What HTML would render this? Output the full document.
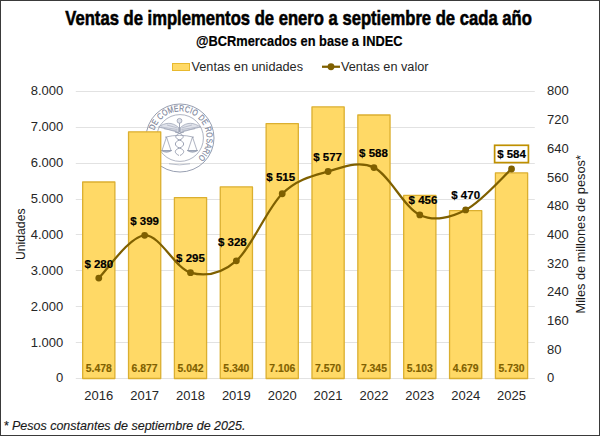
<!DOCTYPE html><html><head><meta charset="utf-8"><style>html,body{margin:0;padding:0;background:#fff;}svg{display:block}</style></head><body>
<svg width="600" height="436" viewBox="0 0 600 436">
<rect x="0" y="0" width="600" height="436" fill="#fff"/>
<line x1="75.8" y1="378.5" x2="534.8" y2="378.5" stroke="#e2e2e2" stroke-width="1.1"/>
<line x1="75.8" y1="342.5" x2="534.8" y2="342.5" stroke="#e2e2e2" stroke-width="1.1"/>
<line x1="75.8" y1="306.5" x2="534.8" y2="306.5" stroke="#e2e2e2" stroke-width="1.1"/>
<line x1="75.8" y1="270.5" x2="534.8" y2="270.5" stroke="#e2e2e2" stroke-width="1.1"/>
<line x1="75.8" y1="234.5" x2="534.8" y2="234.5" stroke="#e2e2e2" stroke-width="1.1"/>
<line x1="75.8" y1="199.5" x2="534.8" y2="199.5" stroke="#e2e2e2" stroke-width="1.1"/>
<line x1="75.8" y1="163.5" x2="534.8" y2="163.5" stroke="#e2e2e2" stroke-width="1.1"/>
<line x1="75.8" y1="127.5" x2="534.8" y2="127.5" stroke="#e2e2e2" stroke-width="1.1"/>
<line x1="75.8" y1="91.5" x2="534.8" y2="91.5" stroke="#e2e2e2" stroke-width="1.1"/>
<g id="seal" fill="none" stroke="#8c94a8" stroke-width="0.9">
<circle cx="180.0" cy="138.0" r="34"/><circle cx="180.0" cy="138.0" r="23.4" stroke-width="0.7"/>
<text transform="translate(158.44 153.58) rotate(-125.9) scale(0.78 1)" font-family="Liberation Sans" font-size="8.8" fill="#7c8499" stroke="#7c8499" stroke-width="0.15" text-anchor="middle">B</text>
<text transform="translate(155.84 149.13) rotate(-114.7) scale(0.78 1)" font-family="Liberation Sans" font-size="8.8" fill="#7c8499" stroke="#7c8499" stroke-width="0.15" text-anchor="middle">O</text>
<text transform="translate(154.19 144.45) rotate(-104.0) scale(0.78 1)" font-family="Liberation Sans" font-size="8.8" fill="#7c8499" stroke="#7c8499" stroke-width="0.15" text-anchor="middle">L</text>
<text transform="translate(153.47 139.93) rotate(-94.2) scale(0.78 1)" font-family="Liberation Sans" font-size="8.8" fill="#7c8499" stroke="#7c8499" stroke-width="0.15" text-anchor="middle">S</text>
<text transform="translate(153.55 135.16) rotate(-83.9) scale(0.78 1)" font-family="Liberation Sans" font-size="8.8" fill="#7c8499" stroke="#7c8499" stroke-width="0.15" text-anchor="middle">A</text>
<text transform="translate(155.23 128.31) rotate(-68.6) scale(0.78 1)" font-family="Liberation Sans" font-size="8.8" fill="#7c8499" stroke="#7c8499" stroke-width="0.15" text-anchor="middle">D</text>
<text transform="translate(157.46 123.88) rotate(-57.9) scale(0.78 1)" font-family="Liberation Sans" font-size="8.8" fill="#7c8499" stroke="#7c8499" stroke-width="0.15" text-anchor="middle">E</text>
<text transform="translate(161.96 118.45) rotate(-42.7) scale(0.78 1)" font-family="Liberation Sans" font-size="8.8" fill="#7c8499" stroke="#7c8499" stroke-width="0.15" text-anchor="middle">C</text>
<text transform="translate(166.23 115.24) rotate(-31.2) scale(0.78 1)" font-family="Liberation Sans" font-size="8.8" fill="#7c8499" stroke="#7c8499" stroke-width="0.15" text-anchor="middle">O</text>
<text transform="translate(171.41 112.82) rotate(-18.8) scale(0.78 1)" font-family="Liberation Sans" font-size="8.8" fill="#7c8499" stroke="#7c8499" stroke-width="0.15" text-anchor="middle">M</text>
<text transform="translate(176.61 111.62) rotate(-7.3) scale(0.78 1)" font-family="Liberation Sans" font-size="8.8" fill="#7c8499" stroke="#7c8499" stroke-width="0.15" text-anchor="middle">E</text>
<text transform="translate(181.57 111.45) rotate(3.4) scale(0.78 1)" font-family="Liberation Sans" font-size="8.8" fill="#7c8499" stroke="#7c8499" stroke-width="0.15" text-anchor="middle">R</text>
<text transform="translate(186.66 112.25) rotate(14.5) scale(0.78 1)" font-family="Liberation Sans" font-size="8.8" fill="#7c8499" stroke="#7c8499" stroke-width="0.15" text-anchor="middle">C</text>
<text transform="translate(190.10 113.39) rotate(22.3) scale(0.78 1)" font-family="Liberation Sans" font-size="8.8" fill="#7c8499" stroke="#7c8499" stroke-width="0.15" text-anchor="middle">I</text>
<text transform="translate(193.52 115.09) rotate(30.6) scale(0.78 1)" font-family="Liberation Sans" font-size="8.8" fill="#7c8499" stroke="#7c8499" stroke-width="0.15" text-anchor="middle">O</text>
<text transform="translate(199.33 119.73) rotate(46.6) scale(0.78 1)" font-family="Liberation Sans" font-size="8.8" fill="#7c8499" stroke="#7c8499" stroke-width="0.15" text-anchor="middle">D</text>
<text transform="translate(202.39 123.63) rotate(57.3) scale(0.78 1)" font-family="Liberation Sans" font-size="8.8" fill="#7c8499" stroke="#7c8499" stroke-width="0.15" text-anchor="middle">E</text>
<text transform="translate(205.38 130.02) rotate(72.6) scale(0.78 1)" font-family="Liberation Sans" font-size="8.8" fill="#7c8499" stroke="#7c8499" stroke-width="0.15" text-anchor="middle">R</text>
<text transform="translate(206.46 135.25) rotate(84.1) scale(0.78 1)" font-family="Liberation Sans" font-size="8.8" fill="#7c8499" stroke="#7c8499" stroke-width="0.15" text-anchor="middle">O</text>
<text transform="translate(206.49 140.40) rotate(95.2) scale(0.78 1)" font-family="Liberation Sans" font-size="8.8" fill="#7c8499" stroke="#7c8499" stroke-width="0.15" text-anchor="middle">S</text>
<text transform="translate(205.64 145.10) rotate(105.5) scale(0.78 1)" font-family="Liberation Sans" font-size="8.8" fill="#7c8499" stroke="#7c8499" stroke-width="0.15" text-anchor="middle">A</text>
<text transform="translate(203.87 149.73) rotate(116.2) scale(0.78 1)" font-family="Liberation Sans" font-size="8.8" fill="#7c8499" stroke="#7c8499" stroke-width="0.15" text-anchor="middle">R</text>
<text transform="translate(202.05 152.87) rotate(124.0) scale(0.78 1)" font-family="Liberation Sans" font-size="8.8" fill="#7c8499" stroke="#7c8499" stroke-width="0.15" text-anchor="middle">I</text>
<text transform="translate(199.69 155.88) rotate(132.2) scale(0.78 1)" font-family="Liberation Sans" font-size="8.8" fill="#7c8499" stroke="#7c8499" stroke-width="0.15" text-anchor="middle">O</text>
<path fill="#dfe2ea" stroke-width="0.6" d="M178.5 127.5 C172 121.5 165 122.5 158.5 127 C165 128.5 172 130.5 178.5 132.5 Z M180.5 127.5 C187 121.5 194 122.5 200.5 127 C194 128.5 187 130.5 180.5 132.5 Z"/>
<path stroke-width="0.45" d="M161 127 L177.5 129.5 M164 128.8 L177.5 131 M167 125 L177.5 128 M198 127 L181.5 129.5 M195 128.8 L181.5 131 M192 125 L181.5 128"/>
<path stroke-width="0.85" d="M179.5 123 L179.5 132 M175 132 C185 134 185 138 179.5 140 C174 142 174 146 179.5 148 C185 150 185 153 180 155.5 M184 132 C174 134 174 138 179.5 140 C185 142 185 146 179.5 148 C174 150 174 153 179 155.5"/>
<circle cx="179.5" cy="120.8" r="2.4" fill="#dfe2ea" stroke-width="0.7"/>
<path stroke-width="0.7" d="M165 137.2 Q179.5 133.5 194 137.2 M166.5 137 L162 150.5 M166.5 137 L171 150.5 M192.5 137 L188 150.5 M192.5 137 L197 150.5"/>
<path fill="#b9bfcf" stroke-width="0.8" d="M161.3 150.5 Q166.5 153.8 171.7 150.5 Z M187.3 150.5 Q192.5 153.8 197.7 150.5 Z"/>
<path stroke-width="0.6" d="M169 163.8 Q179.5 166 190 163.8"/>
</g>
<rect x="82.68" y="181.98" width="32.2" height="196.52" fill="#ffd966" stroke="#dbaf30" stroke-width="1.3" stroke-linejoin="round"/>
<rect x="128.54" y="131.79" width="32.2" height="246.71" fill="#ffd966" stroke="#dbaf30" stroke-width="1.3" stroke-linejoin="round"/>
<rect x="174.40" y="197.62" width="32.2" height="180.88" fill="#ffd966" stroke="#dbaf30" stroke-width="1.3" stroke-linejoin="round"/>
<rect x="220.26" y="186.93" width="32.2" height="191.57" fill="#ffd966" stroke="#dbaf30" stroke-width="1.3" stroke-linejoin="round"/>
<rect x="266.12" y="123.57" width="32.2" height="254.93" fill="#ffd966" stroke="#dbaf30" stroke-width="1.3" stroke-linejoin="round"/>
<rect x="311.98" y="106.93" width="32.2" height="271.57" fill="#ffd966" stroke="#dbaf30" stroke-width="1.3" stroke-linejoin="round"/>
<rect x="357.84" y="115.00" width="32.2" height="263.50" fill="#ffd966" stroke="#dbaf30" stroke-width="1.3" stroke-linejoin="round"/>
<rect x="403.70" y="195.43" width="32.2" height="183.07" fill="#ffd966" stroke="#dbaf30" stroke-width="1.3" stroke-linejoin="round"/>
<rect x="449.56" y="210.64" width="32.2" height="167.86" fill="#ffd966" stroke="#dbaf30" stroke-width="1.3" stroke-linejoin="round"/>
<rect x="495.42" y="172.94" width="32.2" height="205.56" fill="#ffd966" stroke="#dbaf30" stroke-width="1.3" stroke-linejoin="round"/>
<text x="98.78" y="372" font-family="Liberation Sans" font-weight="bold" font-size="10.3" fill="#7f6000" stroke="#7f6000" stroke-width="0.15" text-anchor="middle" textLength="26" lengthAdjust="spacingAndGlyphs">5.478</text>
<text x="144.64" y="372" font-family="Liberation Sans" font-weight="bold" font-size="10.3" fill="#7f6000" stroke="#7f6000" stroke-width="0.15" text-anchor="middle" textLength="26" lengthAdjust="spacingAndGlyphs">6.877</text>
<text x="190.50" y="372" font-family="Liberation Sans" font-weight="bold" font-size="10.3" fill="#7f6000" stroke="#7f6000" stroke-width="0.15" text-anchor="middle" textLength="26" lengthAdjust="spacingAndGlyphs">5.042</text>
<text x="236.36" y="372" font-family="Liberation Sans" font-weight="bold" font-size="10.3" fill="#7f6000" stroke="#7f6000" stroke-width="0.15" text-anchor="middle" textLength="26" lengthAdjust="spacingAndGlyphs">5.340</text>
<text x="282.22" y="372" font-family="Liberation Sans" font-weight="bold" font-size="10.3" fill="#7f6000" stroke="#7f6000" stroke-width="0.15" text-anchor="middle" textLength="26" lengthAdjust="spacingAndGlyphs">7.106</text>
<text x="328.08" y="372" font-family="Liberation Sans" font-weight="bold" font-size="10.3" fill="#7f6000" stroke="#7f6000" stroke-width="0.15" text-anchor="middle" textLength="26" lengthAdjust="spacingAndGlyphs">7.570</text>
<text x="373.94" y="372" font-family="Liberation Sans" font-weight="bold" font-size="10.3" fill="#7f6000" stroke="#7f6000" stroke-width="0.15" text-anchor="middle" textLength="26" lengthAdjust="spacingAndGlyphs">7.345</text>
<text x="419.80" y="372" font-family="Liberation Sans" font-weight="bold" font-size="10.3" fill="#7f6000" stroke="#7f6000" stroke-width="0.15" text-anchor="middle" textLength="26" lengthAdjust="spacingAndGlyphs">5.103</text>
<text x="465.66" y="372" font-family="Liberation Sans" font-weight="bold" font-size="10.3" fill="#7f6000" stroke="#7f6000" stroke-width="0.15" text-anchor="middle" textLength="26" lengthAdjust="spacingAndGlyphs">4.679</text>
<text x="511.52" y="372" font-family="Liberation Sans" font-weight="bold" font-size="10.3" fill="#7f6000" stroke="#7f6000" stroke-width="0.15" text-anchor="middle" textLength="26" lengthAdjust="spacingAndGlyphs">5.730</text>
<path d="M98.78,278.05 C106.42,270.93 129.35,236.26 144.64,235.36 C159.93,234.46 175.21,268.42 190.50,272.67 C205.79,276.91 221.07,273.98 236.36,260.83 C251.65,247.68 266.93,208.63 282.22,193.74 C297.51,178.86 312.79,175.87 328.08,171.50 C343.37,167.14 358.65,160.32 373.94,167.56 C389.23,174.79 404.51,207.85 419.80,214.91 C435.09,221.97 450.37,217.54 465.66,209.89 C480.95,202.23 503.88,175.81 511.52,168.99" fill="none" stroke="#7f6000" stroke-width="2.25" stroke-linecap="round" stroke-linejoin="round"/>
<circle cx="98.78" cy="278.05" r="3.4" fill="#7f6000"/>
<circle cx="144.64" cy="235.36" r="3.4" fill="#7f6000"/>
<circle cx="190.50" cy="272.67" r="3.4" fill="#7f6000"/>
<circle cx="236.36" cy="260.83" r="3.4" fill="#7f6000"/>
<circle cx="282.22" cy="193.74" r="3.4" fill="#7f6000"/>
<circle cx="328.08" cy="171.50" r="3.4" fill="#7f6000"/>
<circle cx="373.94" cy="167.56" r="3.4" fill="#7f6000"/>
<circle cx="419.80" cy="214.91" r="3.4" fill="#7f6000"/>
<circle cx="465.66" cy="209.89" r="3.4" fill="#7f6000"/>
<circle cx="511.52" cy="168.99" r="3.4" fill="#7f6000"/>
<text x="98.78" y="267.55" font-family="Liberation Sans" font-weight="bold" font-size="11.5" fill="#000" stroke="#000" stroke-width="0.2" text-anchor="middle">$ 280</text>
<text x="144.64" y="224.86" font-family="Liberation Sans" font-weight="bold" font-size="11.5" fill="#000" stroke="#000" stroke-width="0.2" text-anchor="middle">$ 399</text>
<text x="190.50" y="262.17" font-family="Liberation Sans" font-weight="bold" font-size="11.5" fill="#000" stroke="#000" stroke-width="0.2" text-anchor="middle">$ 295</text>
<text x="232.36" y="245.53" font-family="Liberation Sans" font-weight="bold" font-size="11.5" fill="#000" stroke="#000" stroke-width="0.2" text-anchor="middle">$ 328</text>
<text x="280.72" y="180.74" font-family="Liberation Sans" font-weight="bold" font-size="11.5" fill="#000" stroke="#000" stroke-width="0.2" text-anchor="middle">$ 515</text>
<text x="327.58" y="160.50" font-family="Liberation Sans" font-weight="bold" font-size="11.5" fill="#000" stroke="#000" stroke-width="0.2" text-anchor="middle">$ 577</text>
<text x="373.44" y="157.06" font-family="Liberation Sans" font-weight="bold" font-size="11.5" fill="#000" stroke="#000" stroke-width="0.2" text-anchor="middle">$ 588</text>
<text x="423.00" y="203.91" font-family="Liberation Sans" font-weight="bold" font-size="11.5" fill="#000" stroke="#000" stroke-width="0.2" text-anchor="middle">$ 456</text>
<text x="465.66" y="199.39" font-family="Liberation Sans" font-weight="bold" font-size="11.5" fill="#000" stroke="#000" stroke-width="0.2" text-anchor="middle">$ 470</text>
<rect x="494.62" y="145.29" width="33.8" height="17.3" fill="#fff" stroke="#bf9000" stroke-width="1.7"/>
<text x="511.52" y="158.49" font-family="Liberation Sans" font-weight="bold" font-size="11.5" fill="#000" stroke="#000" stroke-width="0.2" text-anchor="middle">$ 584</text>
<text x="63.3" y="382.40" font-family="Liberation Sans" font-size="13" fill="#262626" text-anchor="end">0</text>
<text x="63.3" y="346.52" font-family="Liberation Sans" font-size="13" fill="#262626" text-anchor="end">1.000</text>
<text x="63.3" y="310.65" font-family="Liberation Sans" font-size="13" fill="#262626" text-anchor="end">2.000</text>
<text x="63.3" y="274.77" font-family="Liberation Sans" font-size="13" fill="#262626" text-anchor="end">3.000</text>
<text x="63.3" y="238.90" font-family="Liberation Sans" font-size="13" fill="#262626" text-anchor="end">4.000</text>
<text x="63.3" y="203.03" font-family="Liberation Sans" font-size="13" fill="#262626" text-anchor="end">5.000</text>
<text x="63.3" y="167.15" font-family="Liberation Sans" font-size="13" fill="#262626" text-anchor="end">6.000</text>
<text x="63.3" y="131.28" font-family="Liberation Sans" font-size="13" fill="#262626" text-anchor="end">7.000</text>
<text x="63.3" y="95.40" font-family="Liberation Sans" font-size="13" fill="#262626" text-anchor="end">8.000</text>
<text x="547" y="382.40" font-family="Liberation Sans" font-size="13" fill="#262626">0</text>
<text x="547" y="353.70" font-family="Liberation Sans" font-size="13" fill="#262626">80</text>
<text x="547" y="325.00" font-family="Liberation Sans" font-size="13" fill="#262626">160</text>
<text x="547" y="296.30" font-family="Liberation Sans" font-size="13" fill="#262626">240</text>
<text x="547" y="267.60" font-family="Liberation Sans" font-size="13" fill="#262626">320</text>
<text x="547" y="238.90" font-family="Liberation Sans" font-size="13" fill="#262626">400</text>
<text x="547" y="210.20" font-family="Liberation Sans" font-size="13" fill="#262626">480</text>
<text x="547" y="181.50" font-family="Liberation Sans" font-size="13" fill="#262626">560</text>
<text x="547" y="152.80" font-family="Liberation Sans" font-size="13" fill="#262626">640</text>
<text x="547" y="124.10" font-family="Liberation Sans" font-size="13" fill="#262626">720</text>
<text x="547" y="95.40" font-family="Liberation Sans" font-size="13" fill="#262626">800</text>
<text x="98.78" y="400.2" font-family="Liberation Sans" font-size="13" fill="#262626" text-anchor="middle">2016</text>
<text x="144.64" y="400.2" font-family="Liberation Sans" font-size="13" fill="#262626" text-anchor="middle">2017</text>
<text x="190.50" y="400.2" font-family="Liberation Sans" font-size="13" fill="#262626" text-anchor="middle">2018</text>
<text x="236.36" y="400.2" font-family="Liberation Sans" font-size="13" fill="#262626" text-anchor="middle">2019</text>
<text x="282.22" y="400.2" font-family="Liberation Sans" font-size="13" fill="#262626" text-anchor="middle">2020</text>
<text x="328.08" y="400.2" font-family="Liberation Sans" font-size="13" fill="#262626" text-anchor="middle">2021</text>
<text x="373.94" y="400.2" font-family="Liberation Sans" font-size="13" fill="#262626" text-anchor="middle">2022</text>
<text x="419.80" y="400.2" font-family="Liberation Sans" font-size="13" fill="#262626" text-anchor="middle">2023</text>
<text x="465.66" y="400.2" font-family="Liberation Sans" font-size="13" fill="#262626" text-anchor="middle">2024</text>
<text x="511.52" y="400.2" font-family="Liberation Sans" font-size="13" fill="#262626" text-anchor="middle">2025</text>
<text transform="translate(25 260) rotate(-90)" font-family="Liberation Sans" font-size="13.2" fill="#1a1a1a" textLength="51.5" lengthAdjust="spacingAndGlyphs">Unidades</text>
<text transform="translate(585.2 313.4) rotate(-90)" font-family="Liberation Sans" font-size="13.4" fill="#1a1a1a" textLength="158.3" lengthAdjust="spacingAndGlyphs">Miles de millones de pesos*</text>
<text x="65.3" y="25.2" font-family="Liberation Sans" font-weight="bold" font-size="20.6" stroke="#000" stroke-width="0.6" fill="#000" textLength="466.5" lengthAdjust="spacingAndGlyphs">Ventas de implementos de enero a septiembre de cada año</text>
<text x="196" y="46" font-family="Liberation Sans" font-weight="bold" font-size="14.8" fill="#000" stroke="#000" stroke-width="0.2" textLength="206.5" lengthAdjust="spacingAndGlyphs">@BCRmercados en base a INDEC</text>
<rect x="172.5" y="63.5" width="17" height="7" fill="#ffd966" stroke="#e8b92e" stroke-width="1"/>
<text x="191.5" y="70.8" font-family="Liberation Sans" font-size="12" fill="#262626" textLength="111.5" lengthAdjust="spacingAndGlyphs">Ventas en unidades</text>
<line x1="322" y1="66.75" x2="340" y2="66.75" stroke="#7f6000" stroke-width="2.25"/>
<circle cx="331" cy="66.75" r="3.4" fill="#7f6000"/>
<text x="341" y="70.8" font-family="Liberation Sans" font-size="12" fill="#262626" textLength="87.5" lengthAdjust="spacingAndGlyphs">Ventas en valor</text>
<text x="3.6" y="429.9" font-family="Liberation Sans" font-style="italic" font-size="13" fill="#1a1a1a" stroke="#1a1a1a" stroke-width="0.15" textLength="241.8" lengthAdjust="spacingAndGlyphs">* Pesos constantes de septiembre de 2025.</text>
<rect x="0.5" y="0.5" width="599" height="435" fill="none" stroke="#3a3a3a" stroke-width="1"/>
</svg></body></html>
